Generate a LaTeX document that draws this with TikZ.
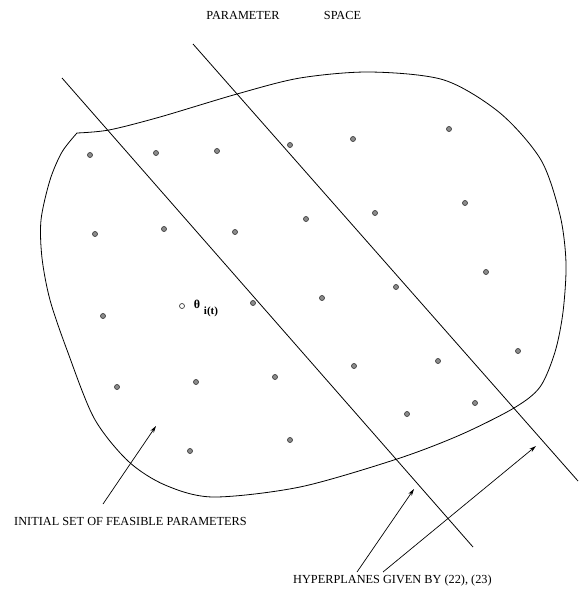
\documentclass[tikz,border=0pt]{standalone}
\usepackage{fontspec}
\setmainfont{Liberation Serif}
\usetikzlibrary{arrows.meta}
\begin{document}
\begin{tikzpicture}[x=1pt,y=-1pt,
  dot/.style={circle,draw=black!75,fill=black!45,line width=0.7pt,inner sep=0pt,minimum size=5pt},
  odot/.style={circle,draw=black!75,fill=white,line width=0.7pt,inner sep=0pt,minimum size=5pt},
  lbl/.style={font=\fontsize{12.3}{14}\selectfont,inner sep=0pt},
  hyper/.style={line width=0.8pt},
  blob/.style={line width=0.8pt},
  pointer/.style={line width=0.7pt,-{Stealth[length=7pt,width=4pt]}}]
\useasboundingbox (0,0) rectangle (578,599);

% title
\node[lbl,anchor=base] (t1) at (243,20) {PARAMETER};
\node[lbl,anchor=base] (t2) at (342.5,20) {SPACE};

% feasible set
\draw[blob] plot[smooth,tension=0.5] coordinates {(77,133) (109,130) (160,117) (237,94) (300,78) (370,72) (444,80) (500,113) (541,160) (560,215) (566,263) (563,312) (555,352) (540,387) (514,408) (460,435) (397,459) (300,487) (213,497) (165,485) (128,461) (94,418) (67,350) (50,300) (42,258) (41,220) (50,180) (62,152) (77,133)};

% hyperplanes
\coordinate (h1a) at (62,78);
\coordinate (h1b) at (473,547);
\coordinate (h2a) at (193,44);
\coordinate (h2b) at (578,481);
\draw[hyper] (h1a) -- (h1b);
\draw[hyper] (h2a) -- (h2b);

% dots
\foreach \p [count=\i] in {(90,155),(156,153),(217,151),(290,145),(353,139),(449,129),
  (95,234),(164,229),(235,232),(306,219),(375,213),(465,203),
  (103,316),(253,303),(322,298),(396,287),(486,272),
  (117,387),(196,382),(275,377),(354,366),(438,361),(518,351),
  (190,451),(290,440),(407,414),(475,403)}
  \node[dot] (d\i) at \p {};
\node[odot] (th) at (182,306) {};
\node[font=\fontsize{12}{14}\selectfont\bfseries,inner sep=0pt] (thl) at (197,304) {θ};
\node[font=\fontsize{11}{13}\selectfont\bfseries,inner sep=0pt] (thi) at (211,311.5) {i(t)};

% labels
\node[lbl,anchor=base west] (init) at (14,525) {INITIAL SET OF FEASIBLE PARAMETERS};
\node[lbl,anchor=base west] (hyp) at (293,583) {HYPERPLANES GIVEN BY (22), (23)};

% pointers
\coordinate (a1s) at (103,504);
\coordinate (a1e) at (156,426);
\coordinate (a2s) at (357,572);
\coordinate (a2e) at (414,489);
\coordinate (a3s) at (383,572);
\coordinate (a3e) at (536,446);
\draw[pointer] (a1s) -- (a1e);
\draw[pointer] (a2s) -- (a2e);
\draw[pointer] (a3s) -- (a3e);
\end{tikzpicture}
\end{document}
